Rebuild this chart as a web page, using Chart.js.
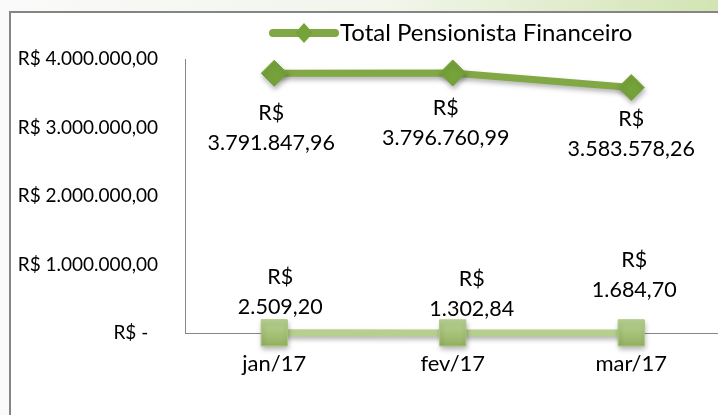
<!DOCTYPE html>
<html>
<head>
<meta charset="utf-8">
<script src="https://cdn.jsdelivr.net/npm/chart.js@4.4.0/dist/chart.umd.min.js"></script>
<style>
  html, body { margin: 0; padding: 0; overflow: hidden; }
  body {
    width: 718px; height: 415px; position: relative;
    background: linear-gradient(90deg, #fafafa 0%, #f1f5ea 55%, #d2e4b3 100%);
  }
  #frame {
    position: absolute; left: 9px; top: 11px; width: 760px; height: 420px;
    border: 2px solid #858585; background: #fff;
  }
  #grafico { position: absolute; left: 0; top: 0; }
</style>
</head>
<body>
<div id="frame"></div>
<canvas id="grafico" width="740" height="415"></canvas>
<script>
const categories = ['jan/17', 'fev/17', 'mar/17'];
const totalFinanceiro = [3791847.96, 3796760.99, 3583578.26];
const segundaSerie = [2509.20, 1302.84, 1684.70];
const yTicks = [0, 1000000, 2000000, 3000000, 4000000];
const yTickLabels = ['R$ -  ', 'R$ 1.000.000,00', 'R$ 2.000.000,00', 'R$ 3.000.000,00', 'R$ 4.000.000,00'];

const FONTE = 'Lato, "Open Sans", sans-serif';

function brl(v) {
  const parts = v.toFixed(2).split('.');
  return parts[0].replace(/\B(?=(\d{3})+(?!\d))/g, '.') + ',' + parts[1];
}

// sombra leve sob as linhas e marcadores, como no Excel
const sombra = {
  id: 'sombra',
  beforeDatasetsDraw(chart) {
    const ctx = chart.ctx;
    ctx.save();
    ctx.shadowColor = 'rgba(0,0,0,0.3)';
    ctx.shadowBlur = 5;
    ctx.shadowOffsetX = 1;
    ctx.shadowOffsetY = 3;
  },
  afterDatasetsDraw(chart) {
    chart.ctx.restore();
  }
};

// rótulos "R$" + valor em duas linhas
const rotulos = {
  id: 'rotulos',
  afterDatasetsDraw(chart, args, opts) {
    const ctx = chart.ctx;
    ctx.save();
    ctx.font = '21.5px ' + FONTE;
    ctx.fillStyle = '#000';
    ctx.textAlign = 'center';
    ctx.textBaseline = 'middle';
    chart.data.datasets.forEach((ds, di) => {
      const meta = chart.getDatasetMeta(di);
      const shift = opts.shift[di];
      meta.data.forEach((pt, i) => {
        const x = pt.x + shift.dx[i];
        const y = pt.y + shift.dy[i];
        ctx.fillText('R$', x, y - 30);
        ctx.fillText(brl(ds.data[i]), x, y);
      });
    });
    ctx.restore();
  }
};

// legenda só com a primeira série
const legenda = {
  id: 'legenda',
  afterDraw(chart) {
    const ctx = chart.ctx;
    const ds = chart.data.datasets[0];
    const y = 33;
    ctx.save();
    ctx.strokeStyle = ds.borderColor;
    ctx.lineWidth = 8;
    ctx.lineCap = 'round';
    ctx.beginPath();
    ctx.moveTo(273, y);
    ctx.lineTo(335, y);
    ctx.stroke();
    ctx.fillStyle = ds.pointBackgroundColor;
    ctx.beginPath();
    ctx.moveTo(304 - 9, y);
    ctx.lineTo(304, y - 10);
    ctx.lineTo(304 + 9, y);
    ctx.lineTo(304, y + 10);
    ctx.closePath();
    ctx.fill();
    ctx.fillStyle = '#000';
    ctx.font = '24px ' + FONTE;
    ctx.textAlign = 'left';
    ctx.textBaseline = 'middle';
    ctx.fillText(ds.label, 340, y);
    ctx.restore();
  }
};

function quadradoGradiente(context) {
  const chart = context.chart;
  const y = chart.scales.y ? chart.scales.y.getPixelForValue(context.raw) : NaN;
  if (!isFinite(y)) return '#a6c47a';
  const g = chart.ctx.createLinearGradient(0, y - 13, 0, y + 13);
  g.addColorStop(0, '#bad494');
  g.addColorStop(1, '#93b15f');
  return g;
}

new Chart(document.getElementById('grafico'), {
  type: 'line',
  data: {
    labels: categories,
    datasets: [{
      label: 'Total Pensionista Financeiro',
      data: totalFinanceiro,
      borderColor: '#82a745',
      borderWidth: 7,
      pointStyle: 'rectRot',
      pointRadius: 13,
      pointHoverRadius: 13,
      pointBackgroundColor: '#76a23a',
      pointBorderColor: '#76a23a',
      pointBorderWidth: 1,
      clip: false
    }, {
      label: 'Série 2',
      data: segundaSerie,
      borderColor: '#b6cf8f',
      borderWidth: 7,
      pointStyle: 'rect',
      pointRadius: 18.5,
      pointHoverRadius: 18.5,
      pointBackgroundColor: quadradoGradiente,
      pointBorderColor: '#aac77e',
      pointBorderWidth: 1,
      clip: false
    }]
  },
  options: {
    responsive: false,
    animation: false,
    events: [],
    layout: { padding: { top: 59, right: 9, left: 0, bottom: 0 } },
    plugins: {
      legend: { display: false },
      tooltip: { enabled: false },
      rotulos: {
        shift: [
          { dx: [-3, -7, 0], dy: [70, 65, 62] },
          { dx: [6, 19, 3], dy: [-26, -24, -43] }
        ]
      }
    },
    scales: {
      x: {
        offset: true,
        grid: { display: false, drawTicks: false },
        border: { display: true, color: '#868686', width: 1 },
        ticks: { font: { family: FONTE, size: 22 }, color: '#000', padding: 18 },
        afterFit: s => { s.height = 82; }
      },
      y: {
        min: 0,
        max: 4000000,
        afterBuildTicks: s => { s.ticks = yTicks.map(v => ({ value: v })); },
        grid: { display: false, drawTicks: false },
        border: { display: true, color: '#868686', width: 1 },
        ticks: {
          font: { family: FONTE, size: 19 },
          color: '#000',
          padding: 27,
          callback: (v, i) => yTickLabels[i]
        },
        afterFit: s => { s.width = 185; }
      }
    }
  },
  plugins: [sombra, rotulos, legenda]
});
</script>
</body>
</html>
